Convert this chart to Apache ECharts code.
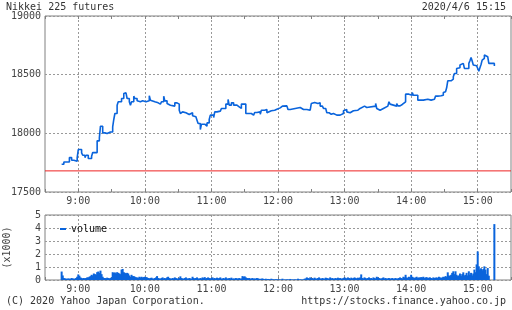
<!DOCTYPE html>
<html><head><meta charset="utf-8">
<script src="https://cdn.jsdelivr.net/npm/echarts@6/dist/echarts.min.js"></script>
<style>html,body{margin:0;padding:0;background:#fff}#c{width:512px;height:310px}</style>
</head><body><div id="c"></div>
<script>
const titleText = 'Nikkei 225 futures';
const dateText = '2020/4/6 15:15';
const copyrightText = '(C) 2020 Yahoo Japan Corporation.';
const urlText = 'https://stocks.finance.yahoo.co.jp';
const volumeName = 'volume';
const volumeUnit = '(x1000)';
const prevClose = 17680;
const priceMin = 17500, priceMax = 19000, priceStep = 500;
const volMin = 0, volMax = 5, volStep = 1;
const timeMin = '8:30', timeMax = '15:30';

const priceTimes = ['8:45','8:47','8:52','8:54','8:56','8:59','9:00','9:03','9:04','9:06','9:07','9:09','9:12','9:13','9:17','9:19','9:20','9:22','9:24','9:26','9:29','9:30','9:31','9:32','9:33','9:35','9:36','9:39','9:41','9:42','9:43','9:44','9:46','9:47','9:48','9:50','9:51','9:53','9:54','9:56','9:58',
'10:01','10:02','10:04','10:05','10:06','10:09','10:12','10:14','10:15','10:17','10:18','10:20','10:21','10:23','10:24','10:27','10:29','10:30','10:31','10:32','10:33','10:34','10:35','10:37','10:40','10:43','10:44','10:46','10:47','10:48','10:50','10:51','10:54','10:55','10:56','10:58','10:59',
'11:02','11:03','11:05','11:06','11:08','11:09','11:11','11:12','11:13','11:15','11:16','11:18','11:20','11:23','11:25','11:27','11:31','11:36','11:38','11:39','11:41','11:42','11:44','11:45','11:48','11:50','11:51','11:54','11:57','11:59',
'12:02','12:04','12:08','12:09','12:11','12:20','12:21','12:23','12:24','12:26','12:29','12:30','12:31','12:33','12:34','12:36','12:37','12:38','12:40','12:41','12:43','12:44','12:46','12:47','12:48','12:50','12:53','12:54','12:56','12:59',
'13:00','13:02','13:03','13:05','13:06','13:08','13:09','13:12','13:14','13:15','13:18','13:20','13:28','13:29','13:30','13:32','13:35','13:36','13:39','13:40','13:41','13:42','13:47','13:48','13:50','13:51','13:52','13:53','13:55','13:58','13:59',
'14:01','14:02','14:04','14:05','14:06','14:11','14:12','14:15','14:18','14:21','14:22','14:24','14:25','14:27','14:28','14:29','14:30','14:31','14:32','14:33','14:36','14:38','14:39','14:41','14:42','14:44','14:45','14:47','14:48','14:52','14:53','14:54','14:55','14:56','14:57','14:59',
'15:00','15:01','15:02','15:03','15:04','15:05','15:06','15:07','15:09','15:10','15:15'];
const priceValues = [17736,17756,17793,17771,17762,17793,17862,17833,17813,17793,17813,17785,17805,17836,17936,17964,18061,18004,17998,18012,17998,18012,18055,18118,18169,18240,18269,18297,18340,18345,18334,18297,18269,18240,18269,18317,18297,18277,18269,18277,18269,
18260,18277,18320,18283,18269,18260,18249,18260,18269,18317,18277,18254,18240,18226,18232,18260,18269,18249,18197,18169,18183,18169,18175,18160,18175,18149,18141,18126,18112,18084,18032,18078,18089,18061,18089,18118,18155,
18135,18183,18169,18189,18203,18212,18226,18212,18249,18289,18240,18260,18240,18226,18212,18249,18169,18155,18169,18178,18189,18183,18163,18197,18203,18175,18192,18197,18206,18217,
18232,18234,18220,18203,18220,18232,18203,18192,18203,18197,18203,18254,18263,18269,18254,18269,18260,18232,18226,18212,18197,18175,18192,18163,18169,18155,18141,18155,18169,18192,
18203,18183,18175,18163,18192,18175,18197,18212,18226,18232,18220,18232,18254,18212,18197,18212,18226,18232,18240,18269,18249,18232,18254,18234,18226,18246,18263,18269,18334,18320,18325,
18348,18325,18334,18325,18283,18269,18291,18283,18291,18303,18317,18311,18320,18303,18325,18348,18354,18368,18388,18448,18462,18482,18510,18553,18559,18582,18596,18587,18553,18596,18619,18647,18616,18582,18576,18567,
18553,18530,18559,18587,18624,18639,18667,18653,18647,18596,18573];

const volumeStart = '8:45';
const volume08 = [0.65,0.35,0.15,0.12,0.1,0.1,0.12,0.1,0.1,0.15,0.12,0.1,0.1,0.15,0.25];
const volume09 = [0.43,0.33,0.2,0.15,0.12,0.15,0.12,0.15,0.2,0.2,0.25,0.3,0.4,0.35,0.5,0.45,0.4,0.6,0.65,0.55,0.72,0.45,0.25,0.15,0.15,0.12,0.18,0.15,0.12,0.15,0.2,0.6,0.55,0.58,0.5,0.6,0.55,0.5,0.45,0.8,0.85,0.6,0.55,0.5,0.55,0.5,0.35,0.25,0.4,0.3,0.3,0.25,0.2,0.2,0.15,0.25,0.2,0.25,0.2,0.22];
const volume10 = [0.25,0.22,0.2,0.15,0.12,0.15,0.18,0.12,0.1,0.15,0.2,0.3,0.15,0.12,0.1,0.15,0.2,0.12,0.15,0.1,0.2,0.25,0.15,0.12,0.1,0.15,0.12,0.2,0.15,0.1,0.12,0.15,0.28,0.15,0.12,0.1,0.15,0.2,0.12,0.1,0.15,0.12,0.1,0.25,0.15,0.12,0.15,0.2,0.12,0.1,0.15,0.12,0.2,0.15,0.22,0.12,0.15,0.2,0.15,0.12];
const volume11 = [0.15,0.2,0.12,0.15,0.1,0.18,0.12,0.15,0.2,0.1,0.12,0.15,0.1,0.2,0.12,0.1,0.15,0.12,0.18,0.1,0.12,0.1,0.15,0.12,0.1,0.15,0.1,0.12,0.3,0.25,0.28,0.2,0.15,0.12,0.15,0.1,0.12,0.15,0.1,0.12,0.1,0.15,0.12,0.1,0.08,0.1,0.12,0.08,0.06,0.1,0.05,0.08,0.06,0.05,0.1,0.06,0.05,0.04,0.06,0.05];
const volume12 = [0.04,0.05,0.03,0.04,0.1,0.03,0.04,0.03,0.05,0.04,0.03,0.08,0.03,0.04,0.03,0.05,0.04,0.03,0.1,0.04,0.05,0.04,0.03,0.05,0.1,0.12,0.2,0.15,0.1,0.2,0.12,0.15,0.1,0.18,0.12,0.1,0.15,0.2,0.12,0.1,0.15,0.12,0.1,0.18,0.15,0.12,0.1,0.2,0.12,0.15,0.1,0.12,0.15,0.1,0.18,0.12,0.15,0.1,0.12,0.15];
const volume13 = [0.2,0.15,0.12,0.2,0.15,0.1,0.18,0.12,0.15,0.2,0.15,0.12,0.18,0.15,0.2,0.43,0.15,0.12,0.2,0.15,0.1,0.15,0.2,0.12,0.15,0.1,0.2,0.15,0.12,0.25,0.2,0.15,0.12,0.1,0.15,0.2,0.12,0.15,0.1,0.12,0.15,0.1,0.12,0.15,0.1,0.12,0.15,0.1,0.12,0.15,0.2,0.15,0.12,0.25,0.2,0.4,0.2,0.15,0.25,0.2];
const volume14 = [0.4,0.25,0.2,0.15,0.2,0.25,0.15,0.2,0.18,0.22,0.2,0.25,0.15,0.2,0.22,0.15,0.18,0.2,0.15,0.12,0.2,0.15,0.18,0.2,0.15,0.25,0.2,0.15,0.2,0.25,0.2,0.3,0.25,0.59,0.35,0.3,0.4,0.55,0.67,0.45,0.67,0.4,0.3,0.35,0.5,0.3,0.45,0.59,0.35,0.4,0.55,0.35,0.67,0.4,0.55,0.35,0.5,0.8,0.6,1.2];
const volume15 = [2.2,1.05,0.8,0.9,0.75,0.85,1.05,0.8,0.45,0.92,0.33,0,0,0,0,4.3];

const FONT = 'DejaVu Sans Mono';
const BLUE = '#0a64dc';
function toMin(s){ const p = s.split(':'); return (+p[0])*60 + (+p[1]); }
function fmtTime(v){ return v % 60 === 0 ? Math.floor(v/60) + ':00' : ''; }

const priceData = priceTimes.map((t,i)=>[toMin(t), priceValues[i]]);
const prevCloseData = [[toMin(timeMin), prevClose], [toMin(timeMax), prevClose]];
const volumeAll = [].concat(volume08, volume09, volume10, volume11, volume12, volume13, volume14, volume15);
const vStart = toMin(volumeStart);
const volumeData = volumeAll.map((v,i)=>[vStart + i, v]);

function xAx(grid, pos, showLabels, showSplit){
  return {
    type:'value', gridIndex:grid, position:pos, min:toMin(timeMin), max:toMin(timeMax), interval:30,
    axisLine:{show:false},
    axisTick:{show:true, inside:true, length:3, lineStyle:{color:'#808080'}},
    axisLabel:{show:showLabels, formatter:fmtTime, color:'#444', fontFamily:FONT, fontSize:10, margin:4, showMinLabel:true, showMaxLabel:true},
    splitLine:{show:showSplit, lineStyle:{color:['rgba(0,0,0,0)','#999'], type:[2,2], width:1}}
  };
}

const chart = echarts.init(document.getElementById('c'), null, {renderer:'canvas'});
chart.setOption({
  animation:false,
  textStyle:{fontFamily:FONT},
  title:[
    {text:titleText, left:1, top:-3, textStyle:{fontFamily:FONT, fontSize:10, fontWeight:'normal', color:'#333'}},
    {text:dateText, right:1, top:-3, textStyle:{fontFamily:FONT, fontSize:10, fontWeight:'normal', color:'#333'}},
    {text:copyrightText, left:1, top:291, textStyle:{fontFamily:FONT, fontSize:10, fontWeight:'normal', color:'#333'}},
    {text:urlText, right:1, top:291, textStyle:{fontFamily:FONT, fontSize:10, fontWeight:'normal', color:'#333'}}
  ],
  legend:{data:[volumeName], left:55, top:219, icon:'rect', itemWidth:6, itemHeight:2, itemGap:4,
    textStyle:{fontFamily:FONT, fontSize:10, color:'#111', padding:[0,0,0,0]}},
  grid:[
    {left:45, right:1, top:16, height:176, show:true, borderColor:'#808080', borderWidth:1, containLabel:false, outerBoundsMode:'none'},
    {left:45, right:1, top:215, height:65, show:true, borderColor:'#808080', borderWidth:1, containLabel:false, outerBoundsMode:'none'}
  ],
  xAxis:[ xAx(0,'bottom',true,true), xAx(1,'bottom',true,true), xAx(0,'top',false,false) ],
  yAxis:[
    {type:'value', gridIndex:0, min:priceMin, max:priceMax, interval:priceStep,
      axisLine:{show:false}, axisTick:{show:false},
      axisLabel:{color:'#444', fontFamily:FONT, fontSize:10, margin:4, formatter:v=>String(v)},
      splitLine:{show:true, lineStyle:{color:'#999', type:[2,2]}}},
    {type:'value', gridIndex:1, min:volMin, max:volMax, interval:volStep,
      name:volumeUnit, nameLocation:'middle', nameGap:33,
      nameTextStyle:{color:'#444', fontFamily:FONT, fontSize:10},
      axisLine:{show:false}, axisTick:{show:false},
      axisLabel:{color:'#444', fontFamily:FONT, fontSize:10, margin:4, formatter:v=>String(v)},
      splitLine:{show:true, lineStyle:{color:'#999', type:[2,2]}}}
  ],
  series:[
    {type:'line', name:'prev', xAxisIndex:0, yAxisIndex:0, data:prevCloseData, showSymbol:false, silent:true,
      lineStyle:{color:'#ee2222', width:1}, itemStyle:{color:'#ee2222'}, z:1},
    {type:'line', name:'price', xAxisIndex:0, yAxisIndex:0, data:priceData, step:'end', showSymbol:false,
      lineStyle:{color:BLUE, width:1.6}, itemStyle:{color:BLUE}, z:2},
    {type:'bar', name:volumeName, xAxisIndex:1, yAxisIndex:1, data:volumeData, barWidth:2, itemStyle:{color:BLUE}}
  ]
});
</script></body></html>
